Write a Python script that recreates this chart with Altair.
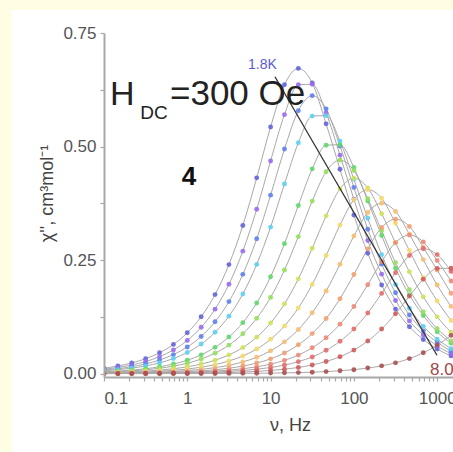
import altair as alt
import pandas as pd

# ---- data (frequency in Hz, chi'' in cm3/mol) ----
freq_hz = [0.1, 0.1468, 0.2154, 0.3162, 0.4642, 0.6813, 1.0, 1.468, 2.154, 3.162,
           4.642, 6.813, 10.0, 14.68, 21.54, 31.62, 46.42, 68.13, 100.0, 146.8,
           215.4, 316.2, 464.2, 681.3, 1000.0, 1468.0]

chi_1p8K = [0.0119, 0.0167, 0.0234, 0.0328, 0.0459, 0.0643, 0.0898, 0.1253, 0.174, 0.240,
            0.326, 0.431, 0.543, 0.636, 0.672, 0.640, 0.550, 0.450, 0.349, 0.265,
            0.195, 0.142, 0.103, 0.075, 0.054, 0.039]
chi_2p0K = [0.0096, 0.0135, 0.0190, 0.0265, 0.0372, 0.0522, 0.0731, 0.1019, 0.1419, 0.1967,
            0.2696, 0.3618, 0.4683, 0.5702, 0.636, 0.637, 0.574, 0.481, 0.384, 0.293,
            0.219, 0.161, 0.116, 0.085, 0.061, 0.044]
chi_2p2K = [0.0077, 0.0108, 0.0152, 0.0213, 0.0299, 0.0418, 0.0586, 0.0818, 0.1141, 0.1585,
            0.2185, 0.2968, 0.3929, 0.4945, 0.5790, 0.612, 0.583, 0.501, 0.410, 0.318,
            0.241, 0.178, 0.129, 0.094, 0.069, 0.049]
chi_2p4K = [0.0062, 0.0086, 0.0120, 0.0169, 0.0236, 0.0331, 0.0466, 0.0651, 0.0909, 0.1265,
            0.1754, 0.2404, 0.3226, 0.4175, 0.5083, 0.5670, 0.568, 0.512, 0.428, 0.342,
            0.262, 0.196, 0.144, 0.104, 0.076, 0.055]
chi_2p6K = [0.0039, 0.0055, 0.0076, 0.0107, 0.0150, 0.0210, 0.0294, 0.0413, 0.0578, 0.0806,
            0.1122, 0.1556, 0.2132, 0.2861, 0.3703, 0.4508, 0.5029, 0.504, 0.454, 0.380,
            0.304, 0.232, 0.173, 0.128, 0.092, 0.067]
chi_2p8K = [0.0030, 0.0042, 0.0059, 0.0083, 0.0117, 0.0164, 0.0229, 0.0321, 0.0450, 0.0628,
            0.0877, 0.1217, 0.1678, 0.2280, 0.3017, 0.3798, 0.4446, 0.47, 0.447, 0.385,
            0.315, 0.244, 0.185, 0.136, 0.099, 0.072]
chi_3p0K = [0.0020, 0.0028, 0.0039, 0.0054, 0.0076, 0.0107, 0.0150, 0.0210, 0.0294, 0.0412,
            0.0574, 0.0802, 0.1114, 0.1535, 0.2086, 0.2761, 0.3474, 0.4068, 0.43, 0.409,
            0.352, 0.288, 0.224, 0.169, 0.125, 0.091]
chi_3p5K = [0.0013, 0.0019, 0.0026, 0.0036, 0.0051, 0.0072, 0.0100, 0.0141, 0.0198, 0.0277,
            0.0388, 0.0541, 0.0755, 0.1049, 0.1446, 0.1964, 0.2600, 0.3272, 0.3831, 0.405,
            0.386, 0.331, 0.271, 0.211, 0.160, 0.117]
chi_4p0K = [0.0009, 0.0012, 0.0017, 0.0024, 0.0034, 0.0047, 0.0066, 0.0093, 0.0131, 0.0183,
            0.0256, 0.0359, 0.0501, 0.0699, 0.0971, 0.1339, 0.1819, 0.2408, 0.3030, 0.3548,
            0.375, 0.357, 0.307, 0.251, 0.195, 0.148]
chi_4p5K = [0.0006, 0.0008, 0.0011, 0.0016, 0.0022, 0.0031, 0.0043, 0.0060, 0.0084, 0.0118,
            0.0166, 0.0232, 0.0325, 0.0454, 0.0634, 0.0881, 0.1214, 0.1649, 0.2183, 0.2747,
            0.3216, 0.34, 0.324, 0.278, 0.228, 0.177]
chi_5p0K = [0.0004, 0.0005, 0.0007, 0.0010, 0.0014, 0.0020, 0.0027, 0.0038, 0.0054, 0.0076,
            0.0106, 0.0149, 0.0208, 0.0292, 0.0407, 0.0569, 0.0790, 0.1089, 0.1479, 0.1958,
            0.2464, 0.2885, 0.305, 0.290, 0.249, 0.204]
chi_6p0K = [0.0002, 0.0003, 0.0005, 0.0006, 0.0009, 0.0013, 0.0018, 0.0025, 0.0035, 0.0049,
            0.0068, 0.0096, 0.0134, 0.0188, 0.0263, 0.0367, 0.0513, 0.0712, 0.0982, 0.1334,
            0.1766, 0.2222, 0.2602, 0.275, 0.262, 0.225]
chi_7p0K = [0.0001, 0.0002, 0.0002, 0.0003, 0.0005, 0.0007, 0.0009, 0.0013, 0.0018, 0.0025,
            0.0035, 0.0049, 0.0069, 0.0097, 0.0135, 0.0190, 0.0266, 0.0371, 0.0517, 0.0717,
            0.0982, 0.1318, 0.1706, 0.2077, 0.2317, 0.232]
chi_8p0K = [0.0000, 0.0000, 0.0000, 0.0001, 0.0001, 0.0001, 0.0002, 0.0002, 0.0003, 0.0004,
            0.0006, 0.0008, 0.0011, 0.0016, 0.0022, 0.0031, 0.0044, 0.0062, 0.0086, 0.0122,
            0.0170, 0.0237, 0.0330, 0.0458, 0.0627, 0.0842]

series_names = ["1.8 K", "2.0 K", "2.2 K", "2.4 K", "2.6 K", "2.8 K", "3.0 K",
                "3.5 K", "4.0 K", "4.5 K", "5.0 K", "6.0 K", "7.0 K", "8.0 K"]
series_values = [chi_1p8K, chi_2p0K, chi_2p2K, chi_2p4K, chi_2p6K, chi_2p8K, chi_3p0K,
                 chi_3p5K, chi_4p0K, chi_4p5K, chi_5p0K, chi_6p0K, chi_7p0K, chi_8p0K]
series_colors = ["#6464dc", "#9a6cf0", "#5f80ee", "#5cd0f5", "#5fd86a", "#92e05c", "#cde35a",
                 "#f3dc6a", "#f7bf70", "#f4a070", "#ee8a78", "#e56c6c", "#d05a5a", "#a85050"]

x_tick_values = [0.1, 0.2, 0.3, 0.4, 0.5, 0.6, 0.7, 0.8, 0.9,
                 1, 2, 3, 4, 5, 6, 7, 8, 9,
                 10, 20, 30, 40, 50, 60, 70, 80, 90,
                 100, 200, 300, 400, 500, 600, 700, 800, 900, 1000]
y_tick_values = [0, 0.125, 0.25, 0.375, 0.5, 0.625, 0.75]

# annotations (data coordinates)
ann_text = ["H", "DC", "=300 Oe"]
ann_x = [0.118, 0.272, 0.62]
ann_y = [0.592, 0.561, 0.592]
ann_size = [34, 19, 35]

arrow_f = [11.29, 994.5]
arrow_chi = [0.6537, 0.0404]

rows = []
for name, vals in zip(series_names, series_values):
    for f, v in zip(freq_hz, vals):
        rows.append({"T": name, "f": f, "chi": v})
df = pd.DataFrame(rows)

ann_df = pd.DataFrame({"t": ann_text, "f": ann_x, "chi": ann_y, "s": ann_size})
arrow_df = pd.DataFrame({"f": arrow_f, "chi": arrow_chi})

FONT = "Liberation Sans Narrow, Arial Narrow, Liberation Sans, sans-serif"

x_scale = alt.Scale(type="log", domain=[0.1, 1549], nice=False)
y_scale = alt.Scale(domain=[-0.0075, 0.75], nice=False, zero=False)

x_axis = alt.Axis(
    values=x_tick_values,
    labelExpr="indexof([0.1, 1, 10, 100, 1000], datum.value) >= 0 ? format(datum.value, '~g') : ''",
    labelOverlap=False, grid=False, title="ν, Hz",
    domainColor="#a8a8a8", domainWidth=2, tickColor="#a8a8a8", tickWidth=1.2, tickSize=4,
    labelColor="#555555", labelFont=FONT, labelFontSize=17, labelPadding=9,
    titleColor="#444444", titleFont=FONT, titleFontSize=18, titleFontWeight="normal",
    titleX=186, titleY=53, titleBaseline="alphabetic", titleAlign="center",
    zindex=1,
)
y_axis = alt.Axis(
    values=y_tick_values,
    labelExpr="indexof([0.125, 0.375, 0.625], datum.value) >= 0 ? '' : format(datum.value, '.2f')",
    labelOverlap=False, grid=False, title="χ'', cm³mol⁻¹",
    domainColor="#a8a8a8", domainWidth=2, tickColor="#a8a8a8", tickWidth=1.2, tickSize=4,
    labelColor="#555555", labelFont=FONT, labelFontSize=17, labelPadding=4,
    titleColor="#444444", titleFont=FONT, titleFontSize=18, titleFontWeight="normal",
    titleX=-57, titleY=160, titleAngle=-90, titleBaseline="middle", titleAlign="center",
    zindex=1,
)

X = alt.X("f:Q", scale=x_scale, axis=x_axis)
Y = alt.Y("chi:Q", scale=y_scale, axis=y_axis)

panel = alt.Chart(alt.Data(values=[{"p": 1}])).mark_rect(color="white").encode(
    x=alt.value(-92), x2=alt.value(349), y=alt.value(-23), y2=alt.value(419)
)

lines = alt.Chart(df).mark_line(interpolate="monotone", color="#a8a8a8", strokeWidth=1, clip=True).encode(
    x=X, y=Y, detail="T:N", order="f:Q"
)

points = alt.Chart(df).mark_circle(size=24, opacity=0.9, clip=True).encode(
    x=X, y=Y,
    color=alt.Color("T:N", scale=alt.Scale(domain=series_names, range=series_colors), legend=None),
)

arrow = alt.Chart(arrow_df).mark_line(color="#333333", strokeWidth=1.3).encode(x=X, y=Y)

ann = alt.Chart(ann_df).mark_text(align="left", baseline="alphabetic", font="Liberation Sans",
                                  color="#222222").encode(
    x=X, y=Y, text="t:N", size=alt.Size("s:Q", scale=None, legend=None)
)

label4 = alt.Chart(pd.DataFrame({"t": ["4"], "f": [1.048], "chi": [0.415]})).mark_text(
    align="center", baseline="alphabetic", font="Liberation Sans", fontSize=26,
    fontWeight="bold", color="#111111"
).encode(x=X, y=Y, text="t:N")

label_lo = alt.Chart(pd.DataFrame({"t": ["1.8K"], "f": [5.355], "chi": [0.671]})).mark_text(
    align="left", baseline="alphabetic", font=FONT, fontSize=14, color="#5a5ad6"
).encode(x=X, y=Y, text="t:N")

label_hi = alt.Chart(pd.DataFrame({"t": ["8.0K"], "f": [820.0], "chi": [-0.004]})).mark_text(
    align="left", baseline="alphabetic", font=FONT, fontSize=17, color="#a04848"
).encode(x=X, y=Y, text="t:N")

chart = alt.layer(panel, lines, points, arrow, ann, label4, label_lo, label_hi).properties(
    width=349, height=344,
    autosize=alt.AutoSizeParams(type="none"),
    padding={"left": 104, "top": 33, "right": 0, "bottom": 75},
    background="#fffde3",
).configure_view(strokeWidth=0)

chart.save("out.html", embed_options={"renderer": "svg", "actions": False})
